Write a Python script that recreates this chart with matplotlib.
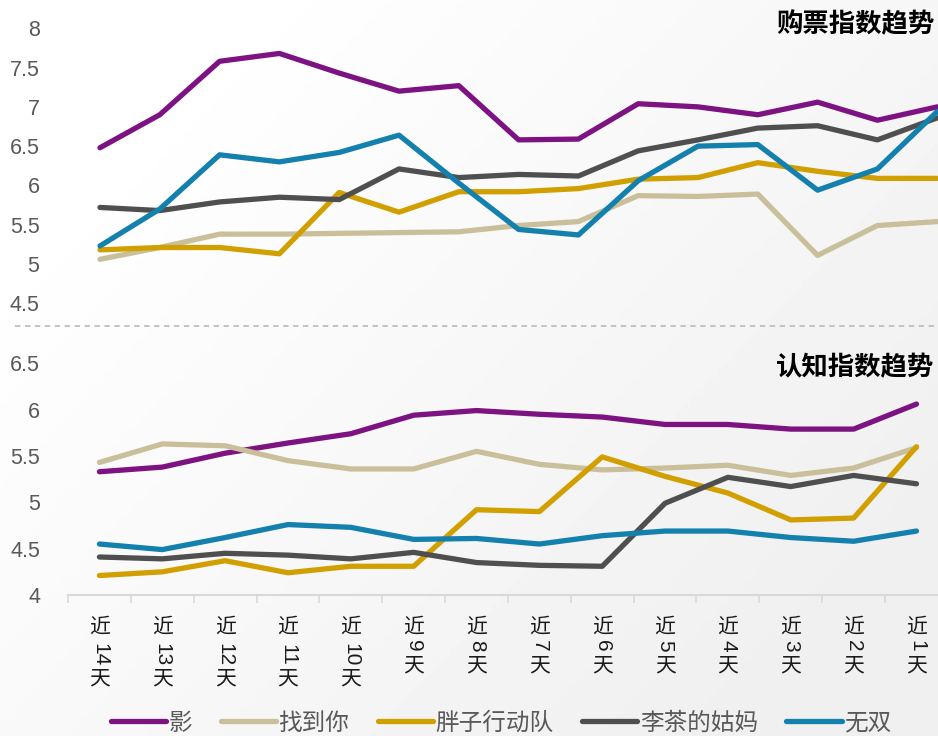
import numpy as np
import matplotlib
matplotlib.use("Agg")
import matplotlib.pyplot as plt
from matplotlib.lines import Line2D
from matplotlib.transforms import blended_transform_factory

plt.rcParams["font.family"] = ["Liberation Sans", "Noto Sans CJK SC", "DejaVu Sans"]

# ---- data -------------------------------------------------------------
series_names = ["影", "找到你", "胖子行动队", "李茶的姑妈", "无双"]
series_colors = ["#7d1282", "#c9c09b", "#d29f00", "#4f4f4f", "#1380ad"]

# 购票指数 (15 points, no axis labels shown)
buy_ying = [6.48, 6.90, 7.58, 7.68, 7.43, 7.20, 7.27, 6.58, 6.59, 7.04, 7.00, 6.90, 7.06, 6.83, 7.00]
buy_zhaodaoni = [5.06, 5.21, 5.38, 5.38, 5.39, 5.40, 5.41, 5.49, 5.54, 5.87, 5.86, 5.89, 5.11, 5.49, 5.54]
buy_pangzi = [5.18, 5.21, 5.21, 5.13, 5.91, 5.66, 5.92, 5.92, 5.96, 6.08, 6.10, 6.29, 6.18, 6.09, 6.09]
buy_licha = [5.72, 5.68, 5.79, 5.85, 5.82, 6.21, 6.10, 6.14, 6.12, 6.44, 6.58, 6.73, 6.76, 6.58, 6.86]
buy_wushuang = [5.23, 5.70, 6.39, 6.30, 6.42, 6.64, 6.03, 5.44, 5.37, 6.06, 6.50, 6.52, 5.94, 6.21, 6.94]

# 认知指数 (14 points)
day_labels = ["近14天", "近13天", "近12天", "近11天", "近10天", "近9天", "近8天",
              "近7天", "近6天", "近5天", "近4天", "近3天", "近2天", "近1天"]
cog_ying = [5.33, 5.38, 5.53, 5.64, 5.74, 5.94, 5.99, 5.95, 5.92, 5.84, 5.84, 5.79, 5.79, 6.06]
cog_zhaodaoni = [5.43, 5.63, 5.61, 5.45, 5.36, 5.36, 5.55, 5.41, 5.35, 5.37, 5.40, 5.29, 5.37, 5.59]
cog_pangzi = [4.21, 4.25, 4.37, 4.24, 4.31, 4.31, 4.92, 4.90, 5.49, 5.28, 5.10, 4.81, 4.83, 5.60]
cog_licha = [4.41, 4.39, 4.45, 4.43, 4.39, 4.46, 4.35, 4.32, 4.31, 4.99, 5.27, 5.17, 5.29, 5.20]
cog_wushuang = [4.55, 4.49, 4.62, 4.76, 4.73, 4.60, 4.61, 4.55, 4.64, 4.69, 4.69, 4.62, 4.58, 4.69]

buy_ticks = [4.5, 5, 5.5, 6, 6.5, 7, 7.5, 8]
cog_ticks = [4, 4.5, 5, 5.5, 6, 6.5]

W, H = 938, 736
TICK_COLOR = "#595959"
LW = 3.8


def fx(px):
    return px / W


def fy(py):
    return 1 - py / H


fig = plt.figure(figsize=(W / 100, H / 100), dpi=100)
fig.patch.set_facecolor("white")

# soft background shading like the source slide
bg = fig.add_axes([0, 0, 1, 1], zorder=-10)
gx = np.linspace(0, 1, 200)
gy = np.linspace(0, 1, 200)
shade = 1.0 - 0.06 * np.clip(np.add.outer(gy * 0.6, gx * 0.8) - 0.2, 0, 1)
bg.imshow(shade, cmap="gray", vmin=0, vmax=1, aspect="auto", extent=[0, 1, 0, 1])
bg.axis("off")

# ---- top panel: 购票指数 --------------------------------------------------
ax1 = fig.add_axes([fx(70.1), fy(303.3), fx(897), (303.3 - 28.3) / H])
ax1.patch.set_alpha(0)
buy_data = [buy_ying, buy_zhaodaoni, buy_pangzi, buy_licha, buy_wushuang]
for vals, c in zip(buy_data, series_colors):
    ax1.plot(range(len(vals)), vals, color=c, lw=LW, solid_capstyle="round",
             solid_joinstyle="round")
ax1.set_xlim(-0.5, len(buy_ying) - 0.5)
ax1.set_ylim(4.5, 8)
ax1.set_yticks(buy_ticks)
ax1.set_yticklabels([f"{t:g}" for t in buy_ticks])
ax1.set_xticks([])
ax1.tick_params(axis="y", length=0, pad=22, labelsize=15.5, labelcolor=TICK_COLOR)
for s in ax1.spines.values():
    s.set_visible(False)

# ---- bottom panel: 认知指数 ----------------------------------------------
ax2 = fig.add_axes([fx(68), fy(595), fx(14 * 62.85), (595 - 363.3) / H])
ax2.patch.set_alpha(0)
cog_data = [cog_ying, cog_zhaodaoni, cog_pangzi, cog_licha, cog_wushuang]
for vals, c in zip(cog_data, series_colors):
    ax2.plot(range(len(vals)), vals, color=c, lw=LW, solid_capstyle="round",
             solid_joinstyle="round")
n = len(day_labels)
ax2.set_xlim(-0.5, n - 0.5)
ax2.set_ylim(4, 6.5)
ax2.set_yticks(cog_ticks)
ax2.set_yticklabels([f"{t:g}" for t in cog_ticks])
ax2.set_xticks(range(n))
ax2.set_xticklabels([])
ax2.set_xticks(np.arange(n + 1) - 0.5, minor=True)
ax2.tick_params(axis="x", which="major", length=0)
ax2.tick_params(axis="x", which="minor", length=6, width=1.2, color="#d9d9d9")
ax2.tick_params(axis="y", length=0, pad=20, labelsize=15.5, labelcolor=TICK_COLOR)
for k, s in ax2.spines.items():
    s.set_visible(k == "bottom")
ax2.spines["bottom"].set_color("#d9d9d9")
ax2.spines["bottom"].set_linewidth(1.5)

# vertical-style category labels: 近 / rotated number / 天
tr = blended_transform_factory(ax2.transData, fig.transFigure)
for i, lab in enumerate(day_labels):
    num = lab[1:-1]
    two = len(num) > 1
    ax2.text(i, fy(627), lab[0], transform=tr, ha="center", va="center",
             fontsize=15, color="#1a1a1a", family="Noto Sans CJK SC")
    ax2.text(i, fy(655 if two else 646), num, transform=tr, ha="center", va="center",
             rotation=-90, fontsize=15, color="#1a1a1a", family="Liberation Sans")
    ax2.text(i, fy(678 if two else 665), lab[-1], transform=tr, ha="center", va="center",
             fontsize=15, color="#1a1a1a", family="Noto Sans CJK SC")

# separator between the two panels
fig.add_artist(Line2D([fx(15), 1.0], [fy(326), fy(326)], color="#bfbfbf", lw=1.3,
                      ls=(0, (3, 2.5))))

# panel titles
fig.text(fx(934), fy(25), "购票指数趋势", ha="right", va="center", fontsize=19,
         fontweight="bold", color="black", family="Noto Sans CJK SC")
fig.text(fx(934), fy(368), "认知指数趋势", ha="right", va="center", fontsize=19,
         fontweight="bold", color="black", family="Noto Sans CJK SC")

# legend
handles = [Line2D([], [], color=c, lw=LW, solid_capstyle="round") for c in series_colors]
leg = fig.legend(handles, series_names, loc="center", bbox_to_anchor=(fx(501), fy(723)),
                 ncol=5, frameon=False, handlelength=2.35,
                 handletextpad=0.1, columnspacing=1.2,
                 prop={"family": "Noto Sans CJK SC", "size": 17})
for t in leg.get_texts():
    t.set_color(TICK_COLOR)

fig.savefig("out.png", dpi=100)
